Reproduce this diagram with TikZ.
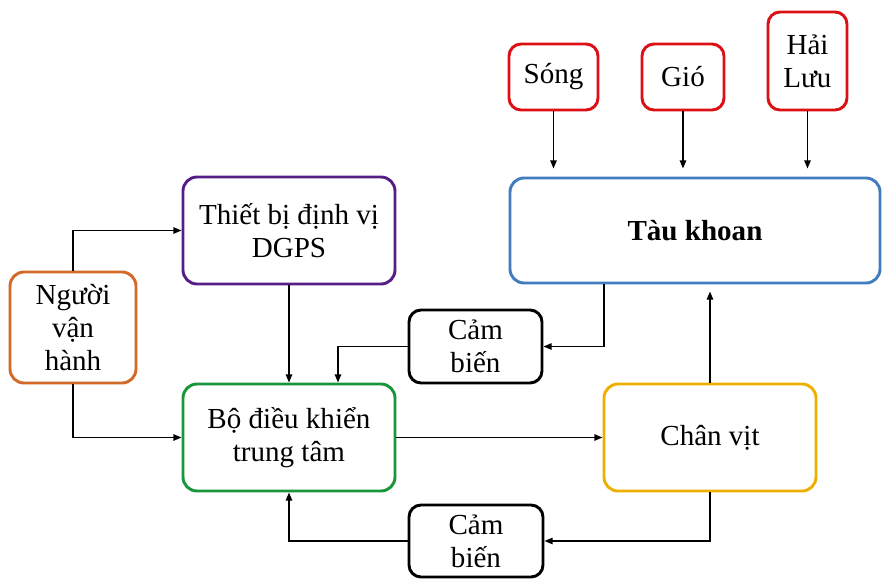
\documentclass[tikz,border=0pt]{standalone}
\usepackage{fontspec}
\setmainfont{Liberation Serif}
\usepackage{tikz}
\usetikzlibrary{arrows.meta}
\definecolor{oporange}{RGB}{210,105,40}
\definecolor{gpspurple}{RGB}{85,30,135}
\definecolor{ctrlgreen}{RGB}{25,150,60}
\definecolor{propgold}{RGB}{238,176,0}
\definecolor{shipblue}{RGB}{65,125,190}
\definecolor{envred}{RGB}{220,15,20}

\begin{document}
\begin{tikzpicture}[
  x=0.03cm, y=-0.03cm,
  every node/.style={font=\fontsize{24.8}{28}\selectfont, align=center},
  box/.style={draw, fill=white, line width=2.5pt, rounded corners=0.42cm, inner sep=2pt},
  envbox/.style={box, draw=envred, rounded corners=0.36cm},
  arrow/.style={-{Triangle[length=7pt,width=5.5pt]}, line width=1.2pt, black}
]
  \useasboundingbox (0,0) rectangle (882,578);

  % Nodes
  \node (op) [box, draw=oporange, minimum width=3.78cm, minimum height=3.33cm] at (73,327.5) {Người\\vận\\hành};
  \node (gps) [box, draw=gpspurple, minimum width=6.36cm, minimum height=3.21cm] at (289,230.5) {Thiết bị định vị\\DGPS};
  \node (ctrl) [box, draw=ctrlgreen, minimum width=6.36cm, minimum height=3.21cm] at (289,437.5) {Bộ điều khiển\\trung tâm};
  \node (sensup) [box, minimum width=3.99cm, minimum height=2.19cm, rounded corners=0.36cm] at (475.5,346.5) {Cảm\\biến};
  \node (sensdn) [box, minimum width=4.02cm, minimum height=2.16cm, rounded corners=0.36cm] at (476,541) {Cảm\\biến};
  \node (prop) [box, draw=propgold, minimum width=6.36cm, minimum height=3.21cm] at (710,437.5) {Chân vịt};
  \node (ship) [box, draw=shipblue, minimum width=11.1cm, minimum height=3.15cm] at (695,230.5) {\textbf{Tàu khoan}};
  \node (wave) [envbox, minimum width=2.67cm, minimum height=1.98cm] at (553.5,77) {Sóng};
  \node (wind) [envbox, minimum width=2.46cm, minimum height=1.98cm] at (683,77) {Gió};
  \node (current) [envbox, minimum width=2.37cm, minimum height=2.94cm] at (807.5,61) {Hải\\Lưu};

  % Paths
  \draw [arrow] (op.north) |- (gps.west);
  \draw [arrow] (op.south) |- (ctrl.west);
  \draw [arrow] (gps) -- (ctrl);
  \draw [arrow] (ctrl) -- (prop);
  \draw [arrow] ([xshift=-2.73cm]ship.south) |- (sensup.east);
  \draw [arrow] (sensup.west) -| ([xshift=1.47cm]ctrl.north);
  \draw [arrow, shorten >=0.21cm] (prop.north) -- (prop.north |- ship.south);
  \draw [arrow] (prop.south) |- (sensdn.east);
  \draw [arrow] (sensdn.west) -| (ctrl.south);
  \draw [arrow, shorten >=0.24cm] (wave.south) -- (wave.south |- ship.north);
  \draw [arrow, shorten >=0.24cm] (wind.south) -- (wind.south |- ship.north);
  \draw [arrow, shorten >=0.24cm] (current.south) -- (current.south |- ship.north);
\end{tikzpicture}
\end{document}
